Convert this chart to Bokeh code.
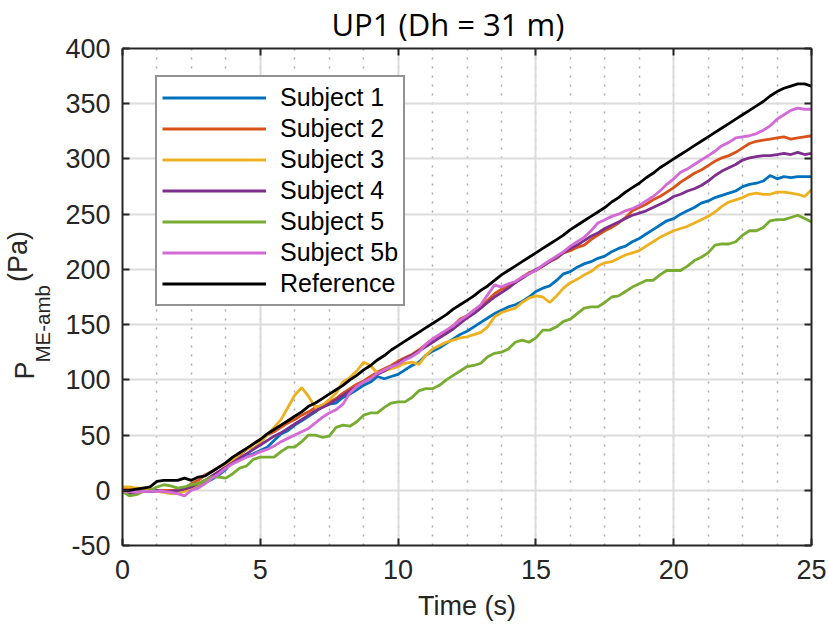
from bokeh.plotting import figure
from bokeh.models import (Range1d, LinearAxis, Legend, LegendItem, Title,
                          SingleIntervalTicker, CustomJSTickFormatter)
from bokeh.embed import file_html
from bokeh.resources import INLINE

# ---------------- data (one value every 0.25 s) -------------
TIME_STEP = 0.25

subject_1 = [
    -1, -4, -2, -1, -1, -1, -1, -1, 0, 0,
    1, 4, 7, 10, 14, 19, 26, 29, 31, 33,
    36, 39, 45, 51, 54, 59, 63, 67, 71, 76,
    78, 79, 84, 87, 91, 95, 98, 103, 101, 103,
    105, 109, 113, 116, 122, 126, 129, 133, 137, 141,
    144, 148, 152, 156, 160, 163, 166, 168, 171, 175,
    180, 183, 185, 190, 196, 198, 202, 205, 207, 210,
    212, 216, 219, 221, 225, 228, 232, 236, 240, 244,
    246, 250, 253, 256, 260, 262, 265, 267, 269, 271,
    275, 277, 278, 280, 285, 282, 284, 283, 284, 284,
    284]

subject_2 = [
    2, 1, 1, 1, 0, -1, 0, 0, 0, 2,
    6, 9, 14, 17, 21, 24, 29, 32, 37, 42,
    46, 50, 53, 57, 61, 64, 68, 71, 75, 77,
    80, 83, 88, 92, 96, 99, 103, 107, 110, 113,
    117, 120, 123, 127, 132, 137, 140, 144, 149, 155,
    158, 163, 167, 172, 178, 182, 185, 188, 193, 197,
    199, 203, 207, 210, 215, 217, 220, 222, 227, 231,
    235, 238, 242, 247, 253, 256, 259, 263, 266, 270,
    274, 279, 283, 287, 290, 294, 298, 301, 303, 306,
    310, 314, 316, 317, 318, 319, 320, 318, 319, 320,
    321]

subject_3 = [
    3, 3, 2, 2, 1, -1, -2, -3, -3, -1,
    2, 5, 9, 13, 17, 22, 27, 33, 38, 38,
    43, 50, 57, 64, 75, 86, 93, 85, 75, 77,
    82, 88, 98, 102, 108, 116, 113, 106, 108, 110,
    112, 115, 116, 114, 122, 128, 131, 134, 136, 138,
    139, 141, 143, 148, 157, 161, 163, 165, 170, 174,
    176, 175, 170, 176, 183, 188, 191, 195, 198, 203,
    206, 207, 210, 213, 215, 217, 221, 225, 229, 232,
    235, 237, 239, 242, 245, 248, 252, 257, 261, 263,
    265, 268, 269, 268, 268, 270, 270, 269, 268, 266,
    272]

subject_4 = [
    -1, -2, -2, -1, -1, 0, -1, -1, 0, 1,
    3, 6, 9, 13, 17, 21, 25, 29, 33, 37,
    41, 45, 49, 52, 56, 60, 64, 68, 72, 75,
    78, 82, 86, 90, 94, 98, 101, 105, 108, 112,
    115, 119, 122, 126, 130, 134, 138, 142, 146, 151,
    156, 160, 165, 170, 175, 179, 183, 188, 192, 196,
    200, 203, 207, 211, 215, 219, 222, 226, 230, 233,
    237, 240, 243, 246, 249, 251, 253, 256, 259, 262,
    266, 268, 271, 273, 276, 280, 285, 289, 292, 295,
    299, 301, 302, 303, 303, 304, 305, 304, 306, 304,
    305]

subject_5 = [
    -1, -5, -4, -1, 0, 3, 5, 4, 2, 3,
    5, 6, 9, 12, 12, 11, 15, 20, 22, 28,
    30, 30, 30, 35, 39, 39, 44, 50, 50, 48,
    49, 57, 59, 58, 62, 68, 70, 70, 75, 79,
    80, 80, 84, 90, 92, 92, 95, 100, 104, 108,
    112, 113, 115, 121, 124, 125, 128, 134, 136, 134,
    138, 145, 145, 148, 153, 155, 160, 165, 166, 166,
    170, 175, 176, 180, 184, 187, 190, 190, 195, 199,
    199, 199, 203, 208, 211, 215, 222, 223, 223, 225,
    231, 235, 235, 238, 244, 245, 245, 247, 249, 246,
    243]

subject_5b = [
    -1, -1, -2, -1, -1, -1, -1, -2, -3, -5,
    0, 2, 6, 11, 15, 20, 24, 27, 30, 32,
    35, 37, 40, 44, 47, 50, 53, 56, 61, 66,
    70, 73, 78, 88, 94, 98, 101, 106, 109, 112,
    114, 118, 121, 125, 132, 137, 141, 145, 149, 154,
    158, 163, 168, 177, 186, 184, 187, 189, 193, 196,
    199, 204, 208, 212, 216, 221, 225, 229, 235, 242,
    245, 248, 250, 253, 255, 258, 262, 266, 271, 277,
    282, 288, 291, 295, 299, 303, 307, 312, 315, 319,
    320, 321, 323, 326, 330, 336, 340, 344, 346, 345,
    345]

reference = [
    0, 0, 1, 2, 3, 8, 9, 9, 9, 11,
    9, 12, 13, 17, 21, 25, 30, 34, 38, 42,
    46, 51, 55, 59, 63, 67, 71, 76, 79, 83,
    87, 91, 95, 100, 104, 109, 113, 118, 122, 127,
    131, 135, 139, 143, 147, 151, 155, 159, 164, 168,
    172, 176, 181, 185, 190, 195, 199, 203, 207, 211,
    215, 219, 223, 227, 231, 236, 240, 244, 248, 252,
    256, 261, 265, 270, 274, 278, 283, 287, 292, 296,
    300, 304, 308, 312, 316, 320, 324, 328, 332, 336,
    340, 344, 348, 352, 357, 361, 364, 366, 368, 368,
    366]

series_names = ["Subject 1", "Subject 2", "Subject 3", "Subject 4",
                "Subject 5", "Subject 5b", "Reference"]
series_values = [subject_1, subject_2, subject_3, subject_4,
                 subject_5, subject_5b, reference]
series_colors = ["#0072BD", "#D95319", "#EDB120", "#7E2F8E",
                 "#77AC30", "#D36AD6", "#000000"]

x_ticks_interval = 5
y_ticks_interval = 50

AX = "#262626"
TICK_FONT = "Liberation Sans"

# ---------------- figure ----------------
p = figure(width=828, height=626, output_backend="svg", toolbar_location=None,
           x_range=Range1d(0, 25), y_range=Range1d(-50, 400),
           min_border_left=122, min_border_right=17, min_border_top=48,
           min_border_bottom=81, background_fill_color="white",
           border_fill_color="white", outline_line_color=None)

p.title = Title(text="UP1 (Dh = 31 m)", text_font="Open Sans",
                text_font_size="31px", text_font_style="normal",
                text_color="#000000", align="left", vertical_align="top",
                offset=209, standoff=3)

xt = SingleIntervalTicker(interval=x_ticks_interval, num_minor_ticks=4)
yt = SingleIntervalTicker(interval=y_ticks_interval, num_minor_ticks=0)
p.xaxis.ticker = xt
p.yaxis.ticker = yt
p.xgrid.ticker = xt
p.ygrid.ticker = yt
p.yaxis.major_label_overrides = {-50: "-50"}

for ax in [p.xaxis[0], p.yaxis[0]]:
    ax.axis_line_color = AX
    ax.axis_line_width = 2
    ax.major_tick_line_color = AX
    ax.major_tick_line_width = 2
    ax.major_tick_in = 7
    ax.major_tick_out = 0
    ax.minor_tick_in = 0
    ax.minor_tick_out = 0
    ax.major_label_text_font = TICK_FONT
    ax.major_label_text_font_size = "27px"
    ax.major_label_text_color = AX
p.yaxis.major_label_standoff = 12
p.xaxis.major_label_standoff = 14

p.xaxis.axis_label = "Time (s)"
p.xaxis.axis_label_text_font = TICK_FONT
p.xaxis.axis_label_text_font_size = "27px"
p.xaxis.axis_label_text_font_style = "normal"
p.xaxis.axis_label_text_color = AX
p.xaxis.axis_label_standoff = 9

# box axes (top / right) with inward ticks, no labels
blank = CustomJSTickFormatter(code="return ''")
for side, ticker in [("above", xt), ("right", yt)]:
    a = LinearAxis(ticker=ticker, formatter=blank, axis_line_color=AX,
                   axis_line_width=2, major_tick_line_color=AX,
                   major_tick_line_width=2, major_tick_in=7, major_tick_out=0,
                   minor_tick_in=0, minor_tick_out=0,
                   major_label_text_font_size="1px", major_label_standoff=0)
    p.add_layout(a, side)

# y axis label  P_{ME-amb} (Pa) as stacked side titles
ylab_common = dict(text_font=TICK_FONT, text_color=AX, text_font_style="normal",
                   align="left", vertical_align="bottom")
p.add_layout(Title(text="ME-amb", text_font_size="20.5px", offset=183,
                   standoff=17.3, **ylab_common), "left")
p.add_layout(Title(text="P", text_font_size="27px", offset=166,
                   standoff=-39.8, **ylab_common), "left")
p.add_layout(Title(text="(Pa)", text_font_size="27px", offset=263.5,
                   standoff=-24.6, **ylab_common), "left")

p.xgrid.grid_line_color = "#dcdcdc"
p.xgrid.grid_line_width = 2
p.ygrid.grid_line_color = "#dcdcdc"
p.ygrid.grid_line_width = 2
p.xgrid.minor_grid_line_color = "#a9a9a9"
p.xgrid.minor_grid_line_width = 1.5
p.xgrid.minor_grid_line_dash = "2 7"

# ---------------- lines ----------------
items = []
for name, vals, col in zip(series_names, series_values, series_colors):
    t = [i * TIME_STEP for i in range(len(vals))]
    r = p.line(t, vals, line_color=col, line_width=2.8)
    items.append(LegendItem(label=name, renderers=[r]))

legend = Legend(items=items, location=(33, 239), orientation="vertical",
                label_text_font=TICK_FONT, label_text_font_size="25px",
                label_text_color="#000000", glyph_width=104, glyph_height=31,
                label_height=31, label_standoff=14, spacing=0, padding=5,
                margin=0, border_line_color=AX, border_line_width=2,
                background_fill_color="white", background_fill_alpha=1)
p.add_layout(legend, "center")

open("out.html", "w").write(file_html(p, INLINE))
